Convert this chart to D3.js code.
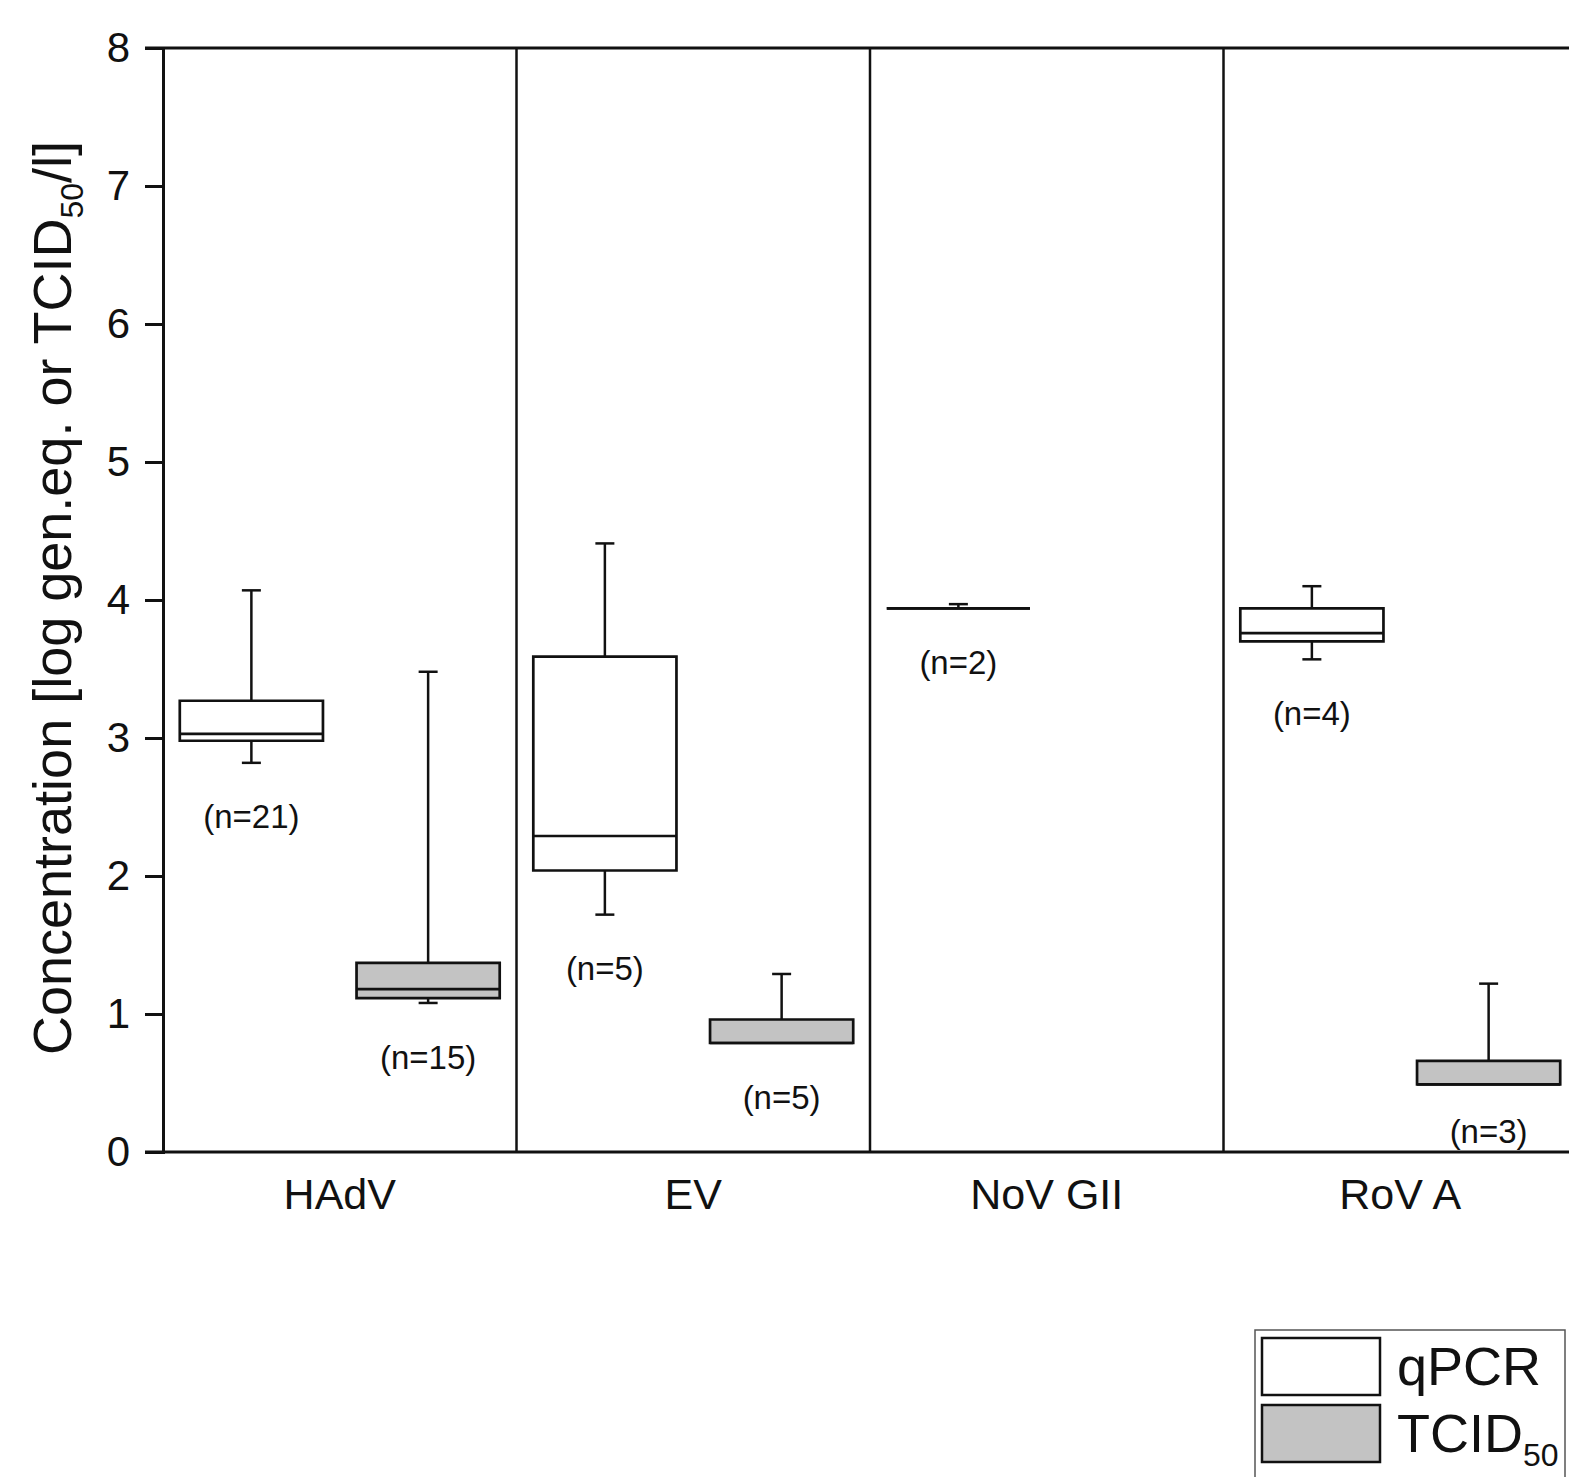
<!DOCTYPE html>
<html>
<head>
<meta charset="utf-8">
<script src="https://cdn.jsdelivr.net/npm/d3@7"></script>
<style>
  html, body { margin: 0; padding: 0; background: #fff; }
  svg { display: block; font-family: "Liberation Sans", Arial, sans-serif; }
</style>
</head>
<body>
<svg id="chart" width="1569" height="1477"></svg>
<script>
// ---- data ----
const categories = ["HAdV", "EV", "NoV GII", "RoV A"];
const seriesNames = ["qPCR", "TCID50"];
const yTicks = [0, 1, 2, 3, 4, 5, 6, 7, 8];

const qpcrWhiskerLow  = [2.82, 1.72, 3.94, 3.57];
const qpcrQ1          = [2.98, 2.04, 3.94, 3.70];
const qpcrMedian      = [3.03, 2.29, 3.94, 3.76];
const qpcrQ3          = [3.27, 3.59, 3.94, 3.94];
const qpcrWhiskerHigh = [4.07, 4.41, 3.97, 4.10];
const qpcrN           = [21, 5, 2, 4];

const tcidWhiskerLow  = [1.08, 0.79, null, 0.49];
const tcidQ1          = [1.115, 0.79, null, 0.49];
const tcidMedian      = [1.18, 0.79, null, 0.49];
const tcidQ3          = [1.37, 0.96, null, 0.66];
const tcidWhiskerHigh = [3.48, 1.29, null, 1.22];
const tcidN           = [15, 5, null, 3];

(function () {
// ---- build rows ----
const rows = [];
categories.forEach((c, i) => {
  rows.push({cat: c, series: "qPCR", lo: qpcrWhiskerLow[i], q1: qpcrQ1[i], med: qpcrMedian[i], q3: qpcrQ3[i], hi: qpcrWhiskerHigh[i], n: qpcrN[i]});
  if (tcidQ1[i] != null)
    rows.push({cat: c, series: "TCID50", lo: tcidWhiskerLow[i], q1: tcidQ1[i], med: tcidMedian[i], q3: tcidQ3[i], hi: tcidWhiskerHigh[i], n: tcidN[i]});
});

const fills = {qPCR: "#ffffff", TCID50: "#c3c3c3"};

// ---- layout ----
const svg = d3.select("#chart");
const mLeft = 163, mTop = 48, mBottom = 1152, panelW = 353.5;
const mRight = mLeft + panelW * categories.length;

const y = d3.scaleLinear().domain([0, 8]).range([mBottom, mTop]);
const x = d3.scaleBand().domain(categories).range([mLeft, mRight]).padding(0);
const xs = d3.scaleBand().domain(seriesNames).range([0, x.bandwidth()])
  .paddingInner(0.19).paddingOuter(0.095);

// panel dividers
svg.append("g").selectAll("line").data(categories.slice(1)).join("line")
  .attr("x1", d => x(d)).attr("x2", d => x(d))
  .attr("y1", y(8)).attr("y2", y(0))
  .attr("stroke", "#111").attr("stroke-width", 2.5);

// y axis
const yAxis = svg.append("g").attr("transform", `translate(${mLeft},0)`)
  .call(d3.axisLeft(y).tickValues(yTicks).tickSize(18).tickPadding(15).tickFormat(d3.format("d")));
yAxis.select(".domain").attr("stroke", "#111").attr("stroke-width", 3);
yAxis.selectAll(".tick line").attr("stroke", "#111").attr("stroke-width", 3);
yAxis.selectAll(".tick text").attr("font-size", 42).attr("fill", "#111")
  .attr("font-family", "'Liberation Sans', Arial, sans-serif");

// top & bottom frame lines
svg.append("g").selectAll("line").data([0, 8]).join("line")
  .attr("x1", mLeft - 18).attr("x2", mRight)
  .attr("y1", d => y(d)).attr("y2", d => y(d))
  .attr("stroke", "#111").attr("stroke-width", 3);

// x axis labels
const xAxis = svg.append("g").attr("transform", `translate(0,${mBottom})`)
  .call(d3.axisBottom(x).tickSize(0).tickPadding(26));
xAxis.select(".domain").remove();
xAxis.selectAll(".tick text").attr("font-size", 43).attr("fill", "#111")
  .attr("font-family", "'Liberation Sans', Arial, sans-serif");

// boxes
const bw = xs.bandwidth();
const capW = 19;
const g = svg.append("g");
const box = g.selectAll("g.box").data(rows).join("g").attr("class", "box")
  .attr("transform", d => `translate(${x(d.cat) + xs(d.series)},0)`);

// whiskers
box.append("line")
  .attr("x1", bw / 2).attr("x2", bw / 2)
  .attr("y1", d => y(d.q3)).attr("y2", d => y(d.hi))
  .attr("stroke", "#111").attr("stroke-width", 2.5);
box.append("line")
  .attr("x1", bw / 2).attr("x2", bw / 2)
  .attr("y1", d => y(d.q1)).attr("y2", d => y(d.lo))
  .attr("stroke", "#111").attr("stroke-width", 2.5);
box.filter(d => d.hi > d.q3).append("line")
  .attr("x1", bw / 2 - capW / 2).attr("x2", bw / 2 + capW / 2)
  .attr("y1", d => y(d.hi)).attr("y2", d => y(d.hi))
  .attr("stroke", "#111").attr("stroke-width", 2.5);
box.filter(d => d.lo < d.q1).append("line")
  .attr("x1", bw / 2 - capW / 2).attr("x2", bw / 2 + capW / 2)
  .attr("y1", d => y(d.lo)).attr("y2", d => y(d.lo))
  .attr("stroke", "#111").attr("stroke-width", 2.5);

// box body
box.append("path")
  .attr("d", d => `M0,${y(d.q3)}H${bw}V${y(d.q1)}H0Z`)
  .attr("fill", d => fills[d.series])
  .attr("stroke", "#111").attr("stroke-width", 2.7);
// median
box.append("line")
  .attr("x1", 0).attr("x2", bw)
  .attr("y1", d => y(d.med)).attr("y2", d => y(d.med))
  .attr("stroke", "#111").attr("stroke-width", 2.7);

// n labels
box.append("text")
  .attr("x", bw / 2)
  .attr("y", d => Math.min(y(Math.min(d.lo, d.q1)) + 54, y(0) - 21))
  .attr("dy", "0.35em")
  .attr("text-anchor", "middle")
  .attr("font-size", 33).attr("fill", "#111")
  .text(d => `(n=${d.n})`);

// y axis title
const title = svg.append("text")
  .attr("transform", `translate(71,${(mTop + mBottom) / 2 - 2}) rotate(-90)`)
  .attr("text-anchor", "middle")
  .attr("font-size", 54).attr("fill", "#111");
title.append("tspan").text("Concentration [log gen.eq. or TCID");
title.append("tspan").attr("font-size", 32).attr("dy", 12).text("50");
title.append("tspan").attr("dy", -12).text("/l]");

// legend
const lg = svg.append("g");
lg.append("rect").attr("x", 1255).attr("y", 1330).attr("width", 310).attr("height", 170)
  .attr("fill", "#fff").attr("stroke", "#555").attr("stroke-width", 1.5);
const legendItems = lg.selectAll("g.item").data(seriesNames).join("g").attr("class", "item")
  .attr("transform", (d, i) => `translate(0,${i * 67})`);
legendItems.append("rect")
  .attr("x", 1262).attr("y", 1338).attr("width", 118).attr("height", 57)
  .attr("fill", d => fills[d]).attr("stroke", "#111").attr("stroke-width", 2.5);
const lt = legendItems.append("text")
  .attr("x", 1397).attr("y", 1385)
  .attr("font-size", 54).attr("fill", "#111");
lt.each(function(d) {
  const t = d3.select(this);
  if (d === "TCID50") {
    t.append("tspan").text("TCID");
    t.append("tspan").attr("font-size", 32).attr("dy", 14).text("50");
  } else {
    t.text(d);
  }
});
})();
</script>
</body>
</html>
